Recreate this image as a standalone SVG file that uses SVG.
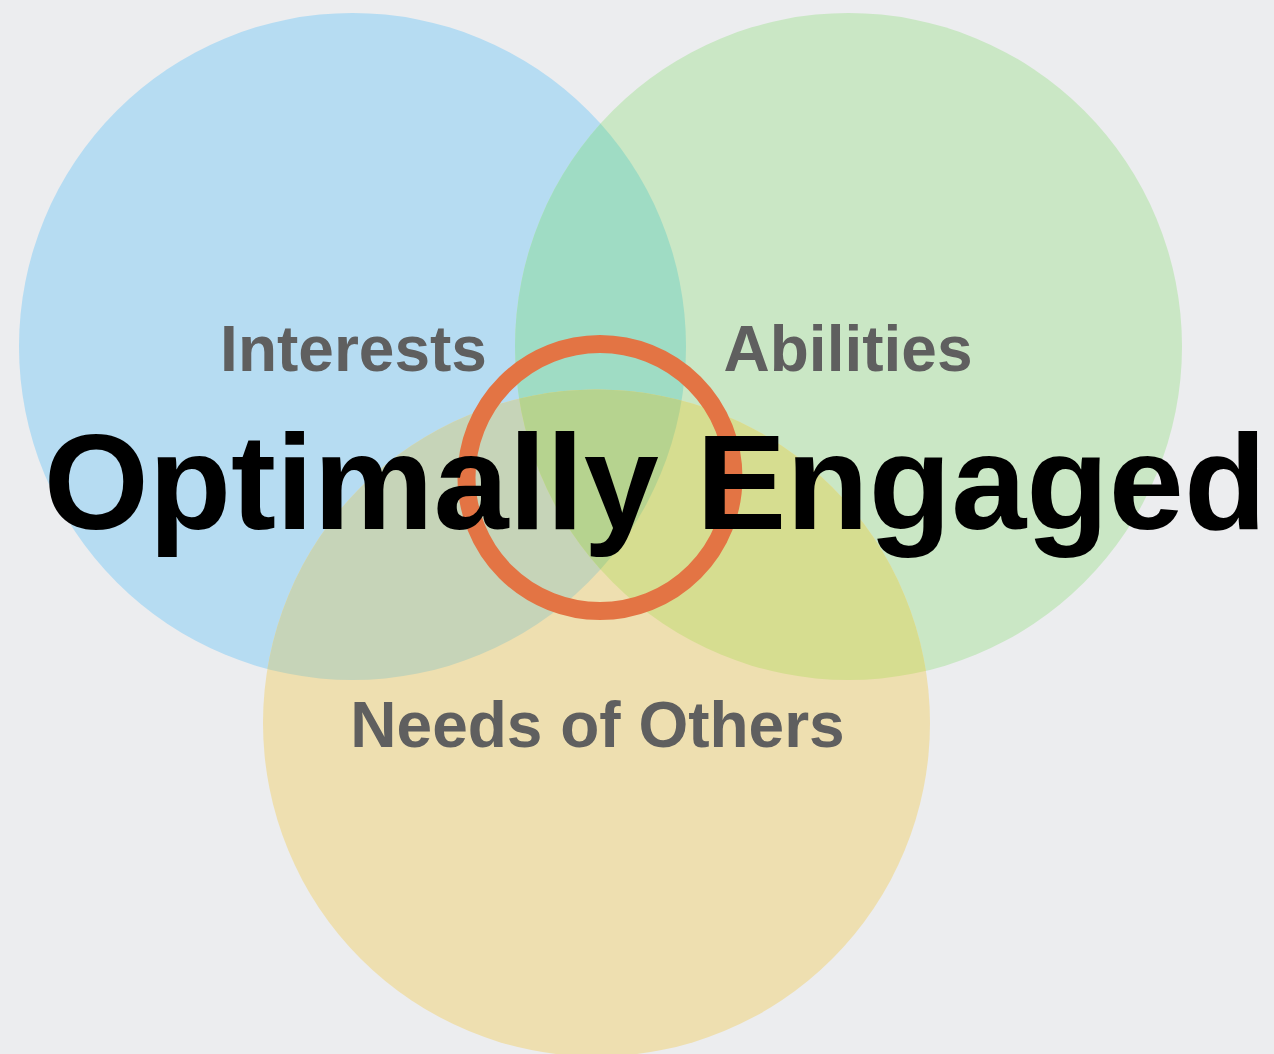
<svg xmlns="http://www.w3.org/2000/svg" width="1274" height="1054" viewBox="0 0 1274 1054">
  <style>
    .label { font-family: "Liberation Sans", Arial, Helvetica, sans-serif; font-weight: bold; fill: #5f5f5f; font-size: 64px; text-anchor: middle; }
    .title { font-family: "Liberation Sans", Arial, Helvetica, sans-serif; font-weight: bold; fill: #000000; font-size: 135px; text-anchor: middle; }
  </style>
  <defs>
    <clipPath id="clipBlue"><circle cx="352.5" cy="346.5" r="333.5"/></clipPath>
    <clipPath id="clipGreen"><circle cx="848.5" cy="346.5" r="333.5"/></clipPath>
  </defs>
  <rect width="1274" height="1054" fill="#ecedef"/>
  <g id="interests">
    <circle cx="352.5" cy="346.5" r="333.5" fill="#b6dcf2"/>
  </g>
  <g id="abilities">
    <circle cx="848.5" cy="346.5" r="333.5" fill="#cae7c5"/>
  </g>
  <g id="needs-of-others">
    <circle cx="596.5" cy="723" r="333.5" fill="#eedfb0"/>
  </g>
  <g id="overlaps">
    <circle cx="848.5" cy="346.5" r="333.5" fill="#9fdcc4" clip-path="url(#clipBlue)"/>
    <circle cx="596.5" cy="723" r="333.5" fill="#c6d4b8" clip-path="url(#clipBlue)"/>
    <circle cx="596.5" cy="723" r="333.5" fill="#d6dd90" clip-path="url(#clipGreen)"/>
    <g clip-path="url(#clipGreen)">
      <circle cx="596.5" cy="723" r="333.5" fill="#b6d38f" clip-path="url(#clipBlue)"/>
    </g>
  </g>
  <g id="labels">
    <text class="label" x="353.5" y="371">Interests</text>
    <text class="label" x="848" y="371">Abilities</text>
    <text class="label" x="597.5" y="747">Needs of Others</text>
  </g>
  <g id="optimal-ring">
    <circle cx="600" cy="477.5" r="133.5" fill="none" stroke="#e37444" stroke-width="18"/>
  </g>
  <g id="title">
    <text class="title" x="655" y="529">Optimally Engaged</text>
  </g>
</svg>
